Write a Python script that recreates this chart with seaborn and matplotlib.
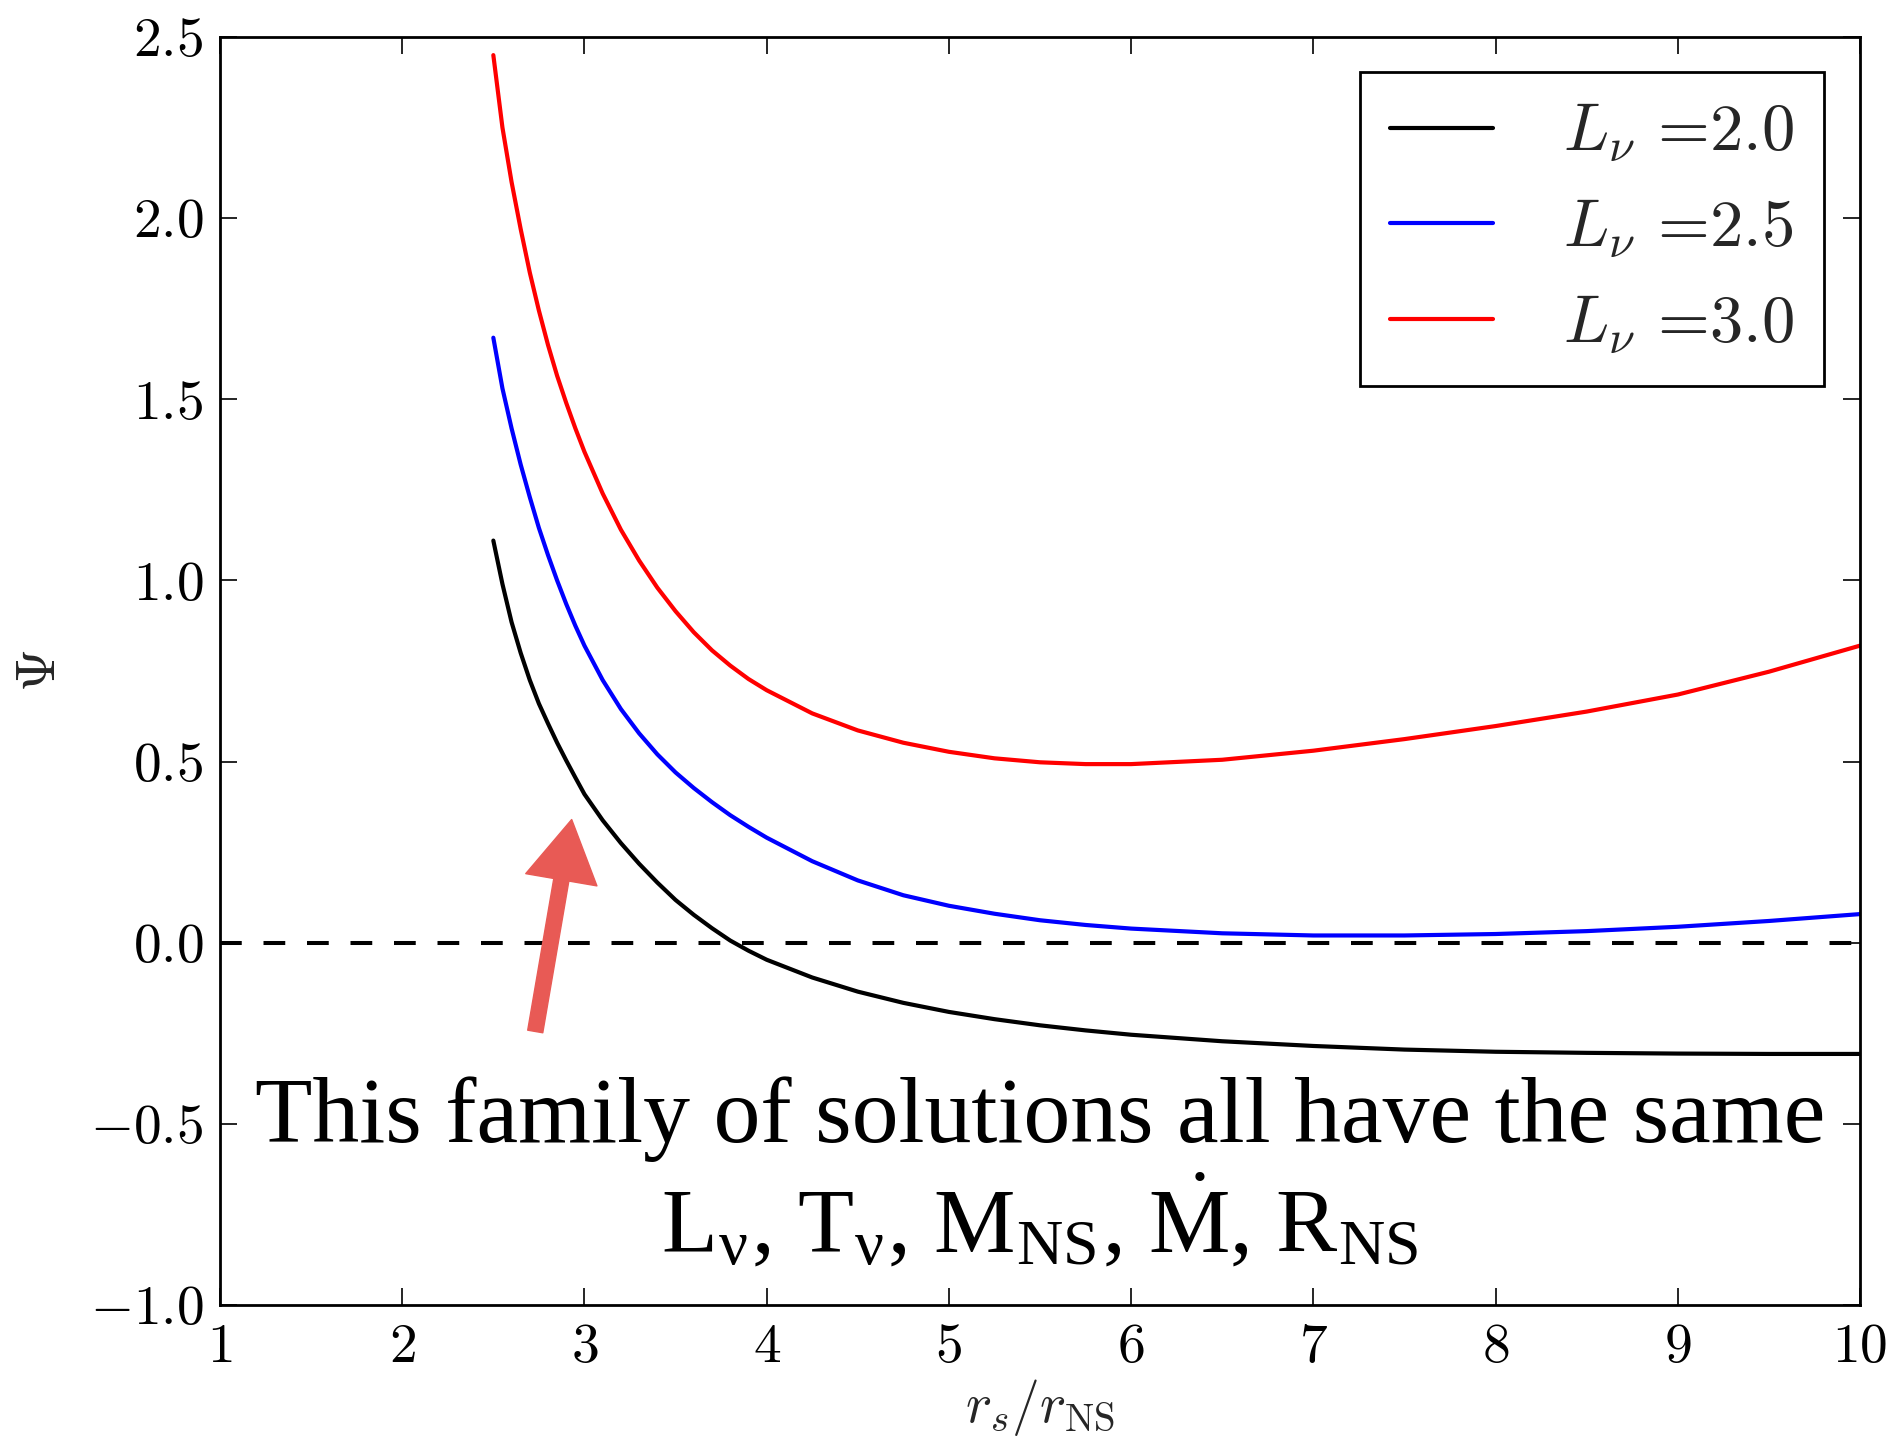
import numpy as np
import pandas as pd
import matplotlib
matplotlib.use("Agg")
import matplotlib.pyplot as plt
import seaborn as sns

# ---------------- data ----------------
r_ratio = [2.50, 2.55, 2.60, 2.65, 2.70, 2.75, 2.80, 2.85, 2.90, 2.95, 3.00,
           3.10, 3.20, 3.30, 3.40, 3.50, 3.60, 3.70, 3.80, 3.90, 4.00,
           4.25, 4.50, 4.75, 5.00, 5.25, 5.50, 5.75, 6.00,
           6.50, 7.00, 7.50, 8.00, 8.50, 9.00, 9.50, 10.0]
psi_L20 = [1.11, 0.99, 0.885, 0.80, 0.725, 0.66, 0.605, 0.552, 0.503, 0.456, 0.41,
           0.338, 0.275, 0.218, 0.166, 0.118, 0.077, 0.040, 0.006, -0.022, -0.047,
           -0.096, -0.135, -0.166, -0.191, -0.211, -0.228, -0.242, -0.254,
           -0.272, -0.285, -0.295, -0.301, -0.304, -0.306, -0.307, -0.307]
psi_L25 = [1.67, 1.53, 1.42, 1.32, 1.23, 1.145, 1.07, 1.00, 0.935, 0.875, 0.82,
           0.725, 0.645, 0.578, 0.52, 0.47, 0.427, 0.388, 0.352, 0.32, 0.29,
           0.225, 0.172, 0.131, 0.102, 0.080, 0.062, 0.049, 0.039,
           0.026, 0.020, 0.020, 0.024, 0.032, 0.044, 0.060, 0.079]
psi_L30 = [2.45, 2.25, 2.10, 1.97, 1.85, 1.745, 1.65, 1.565, 1.49, 1.42, 1.355,
           1.24, 1.14, 1.055, 0.98, 0.915, 0.857, 0.807, 0.765, 0.728, 0.697,
           0.633, 0.586, 0.552, 0.527, 0.509, 0.498, 0.493, 0.493,
           0.505, 0.530, 0.562, 0.598, 0.638, 0.685, 0.748, 0.820]
luminosities = ["2.0", "2.5", "3.0"]
series_colors = ["black", "blue", "red"]

x_ticks = [1, 2, 3, 4, 5, 6, 7, 8, 9, 10]
x_tick_labels = ["$1$", "$2$", "$3$", "$4$", "$5$", "$6$", "$7$", "$8$", "$9$", "$10$"]
y_ticks = [-1.0, -0.5, 0.0, 0.5, 1.0, 1.5, 2.0, 2.5]
y_tick_labels = ["$-1.0$", "$-0.5$", "$0.0$", "$0.5$", "$1.0$", "$1.5$", "$2.0$", "$2.5$"]

x_label = r"$r_s/r_{\rm NS}$"
y_label = r"$\Psi$"
note_line1 = "This family of solutions all have the same"
note_line2 = (r"L$_\mathregular{\nu}$, T$_\mathregular{\nu}$, M$_\mathregular{NS}$, "
              r"$\dot{\mathregular{M}}$, R$_\mathregular{NS}$")
note_x = 5.5
note_y = [-0.550, -0.854]
arrow_tail = (2.73, -0.245)
arrow_head = (2.93, 0.34)
arrow_color = "#E85A55"

# ---------------- style ----------------
sns.set_theme(style="ticks")
plt.rcParams["font.family"] = ["serif"]
plt.rcParams["font.serif"] = ["cmr10", "DejaVu Serif"]
plt.rcParams["mathtext.fontset"] = "cm"
plt.rcParams["axes.formatter.use_mathtext"] = True
plt.rcParams["axes.unicode_minus"] = True

labels = [r"$L_\nu$ =" + v for v in luminosities]
frames = []
for lab, ys in zip(labels, [psi_L20, psi_L25, psi_L30]):
    frames.append(pd.DataFrame({"r": r_ratio, "psi": ys, "series": lab}))
df = pd.concat(frames, ignore_index=True)

fig = plt.figure(figsize=(18.88, 14.40), dpi=100)
ax = fig.add_axes([220 / 1888, 135 / 1440, 1640 / 1888, 1268 / 1440])

sns.lineplot(data=df, x="r", y="psi", hue="series", hue_order=labels,
             palette=dict(zip(labels, series_colors)), linewidth=3.0,
             estimator=None, sort=False, ax=ax)
for ln in ax.get_lines():
    ln.set_solid_joinstyle("round")

ax.axhline(0.0, color="black", linewidth=2.9, linestyle=(0, (5.4, 5.4)))

ax.set_xlim(1, 10)
ax.set_ylim(-1.0, 2.5)
ax.set_xticks(x_ticks)
ax.set_xticklabels(x_tick_labels)
ax.set_yticks(y_ticks)
ax.set_yticklabels(y_tick_labels)
ax.tick_params(direction="in", length=12, width=1.2, top=True, right=True,
               labelsize=40, colors="black")
ax.tick_params(axis="y", pad=12)
ax.tick_params(axis="x", pad=13)
for sp in ax.spines.values():
    sp.set_visible(True)
    sp.set_linewidth(2.0)
    sp.set_color("black")

ax.set_xlabel(x_label, fontsize=40, labelpad=3)
ax.set_ylabel(y_label, fontsize=40, labelpad=17)

leg = ax.legend(loc="upper right", bbox_to_anchor=((1824 - 220) / 1640, (1305 - 72) / 1268),
                borderaxespad=0, fontsize=48, frameon=True, fancybox=False,
                framealpha=1, edgecolor="black", handlelength=1.55,
                handletextpad=1.05, borderpad=0.45, labelspacing=0.5)
leg.get_frame().set_linewidth(2.0)
for h in leg.get_lines():
    h.set_linewidth(3.0)

ax.annotate("", xy=arrow_head, xytext=arrow_tail,
            arrowprops=dict(facecolor=arrow_color, edgecolor=arrow_color,
                            width=11, headwidth=52, headlength=44, shrink=0))

ax.text(note_x, note_y[0], note_line1, ha="center", va="baseline",
        fontsize=67.5, family=["Liberation Serif"], color="black")
ax.text(note_x, note_y[1], note_line2, ha="center", va="baseline",
        fontsize=66, family=["Liberation Serif"], math_fontfamily="stix",
        color="black")

fig.savefig("out.png", dpi=100, facecolor="white")
